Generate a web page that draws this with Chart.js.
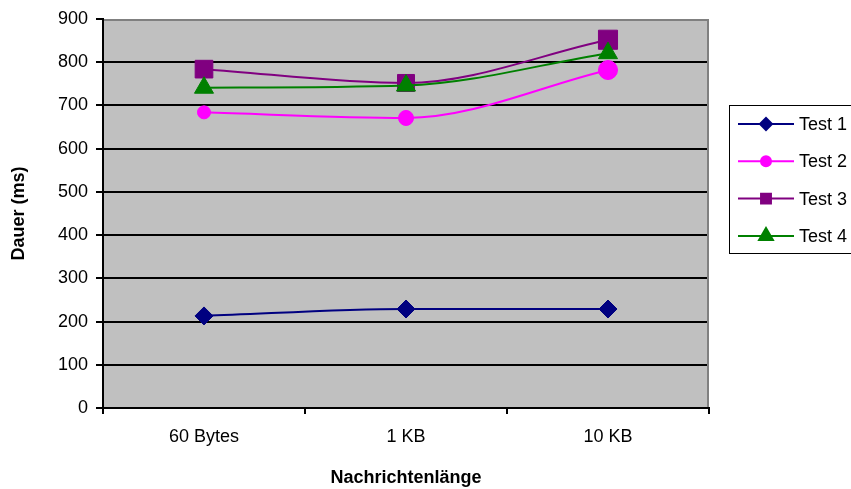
<!DOCTYPE html>
<html>
<head>
<meta charset="utf-8">
<script src="https://cdn.jsdelivr.net/npm/chart.js@4/dist/chart.umd.min.js"></script>
<style>
  body { margin: 0; background: #fff; }
</style>
</head>
<body>
<canvas id="chart" width="851" height="489"></canvas>
<script>
const categories = ['60 Bytes', '1 KB', '10 KB']
const test1 = [213, 229, 229]
const test2 = [684, 671, 782]
const test3 = [784, 752, 852]
const test4 = [741, 746, 821]
const yTicks = [0, 100, 200, 300, 400, 500, 600, 700, 800, 900]

const font = "'Liberation Sans', Arial, sans-serif"

// grey plot area like the old excel charts
const plotBackground = {
    id: 'plotBackground',
    beforeDraw(chart) {
        const { ctx, chartArea: a } = chart
        ctx.save()
        ctx.fillStyle = '#c0c0c0'
        ctx.fillRect(a.left, a.top, a.right - a.left, a.bottom - a.top)
        ctx.restore()
    },
    beforeDatasetsDraw(chart) {
        // grey frame on top and right, over the grid lines
        const { ctx, chartArea: a } = chart
        ctx.save()
        ctx.strokeStyle = '#808080'
        ctx.lineWidth = 2
        ctx.beginPath()
        ctx.moveTo(a.left + 1, a.top + 1)
        ctx.lineTo(a.right - 1, a.top + 1)
        ctx.lineTo(a.right - 1, a.bottom - 1)
        ctx.stroke()
        ctx.restore()
    }
}

// legend box on the right, line with marker in the middle
const lineLegend = {
    id: 'lineLegend',
    afterDraw(chart) {
        const ctx = chart.ctx
        ctx.save()
        ctx.strokeStyle = '#000'
        ctx.lineWidth = 1
        ctx.strokeRect(729.5, 105.5, 130, 148)
        ctx.font = '18px ' + font
        ctx.textBaseline = 'middle'
        chart.data.datasets.forEach((ds, i) => {
            const y = 124 + i * 37.3
            ctx.strokeStyle = ds.borderColor
            ctx.lineWidth = 2
            ctx.beginPath()
            ctx.moveTo(738, y)
            ctx.lineTo(794, y)
            ctx.stroke()
            ctx.fillStyle = ds.backgroundColor
            ctx.strokeStyle = ds.borderColor
            Chart.helpers.drawPoint(ctx, {
                pointStyle: ds.pointStyle,
                radius: ds.legendRadius,
                rotation: 0,
                borderWidth: 1
            }, 766, y)
            ctx.fillStyle = '#000'
            ctx.fillText(ds.label, 799, y + 1)
        })
        ctx.restore()
    }
}

new Chart(document.getElementById('chart').getContext('2d'), {
    type: 'line',
    data: {
        labels: categories,
        datasets: [
            {
                label: 'Test 1', data: test1, order: 4,
                borderColor: '#000080', backgroundColor: '#000080',
                pointStyle: 'rectRot', pointRadius: 9, legendRadius: 6
            },
            {
                label: 'Test 2', data: test2, order: 3,
                borderColor: '#ff00ff', backgroundColor: '#ff00ff',
                pointStyle: 'circle', pointRadius: [6.5, 7.5, 9.5], legendRadius: 5
            },
            {
                label: 'Test 3', data: test3, order: 2,
                borderColor: '#800080', backgroundColor: '#800080',
                pointStyle: 'rect', pointRadius: [12.5, 12, 13.5], legendRadius: 7
            },
            {
                label: 'Test 4', data: test4, order: 1,
                borderColor: '#008000', backgroundColor: '#008000',
                pointStyle: 'triangle', pointRadius: 11, legendRadius: 8
            }
        ].map(ds => ({
            ...ds,
            borderWidth: 2,
            pointBorderWidth: 1,
            cubicInterpolationMode: 'monotone',
            fill: false
        }))
    },
    options: {
        responsive: false,
        animation: false,
        events: [],
        layout: { padding: { top: 19, right: 142, left: 0, bottom: 0 } },
        plugins: {
            legend: { display: false },
            tooltip: { enabled: false }
        },
        scales: {
            x: {
                offset: true,
                grid: {
                    offset: true,
                    drawOnChartArea: false,
                    drawTicks: true,
                    tickLength: 6,
                    color: '#000',
                    lineWidth: 2
                },
                border: { color: '#000', width: 2 },
                ticks: { color: '#000', padding: 12, font: { family: font, size: 18 } },
                title: {
                    display: true,
                    text: 'Nachrichtenlänge',
                    color: '#000',
                    padding: { top: 0, bottom: 0 },
                    font: { family: font, size: 18, weight: 'bold', lineHeight: 1.2 }
                },
                afterFit: s => { s.height = 81 }
            },
            y: {
                min: 0,
                max: 900,
                afterBuildTicks: s => { s.ticks = yTicks.map(v => ({ value: v })) },
                grid: {
                    color: c => (c.tick && c.tick.value === 900) ? 'rgba(0,0,0,0)' : '#000',
                    tickColor: '#000',
                    lineWidth: 2,
                    tickLength: 7
                },
                border: { color: '#000', width: 2 },
                ticks: { color: '#000', padding: 8, font: { family: font, size: 18 } },
                title: {
                    display: true,
                    text: 'Dauer (ms)',
                    color: '#000',
                    padding: { top: 8, bottom: 0 },
                    font: { family: font, size: 18, weight: 'bold', lineHeight: 1.2 }
                },
                afterFit: s => { s.width = 103 }
            }
        }
    },
    plugins: [plotBackground, lineLegend]
})
</script>
</body>
</html>
